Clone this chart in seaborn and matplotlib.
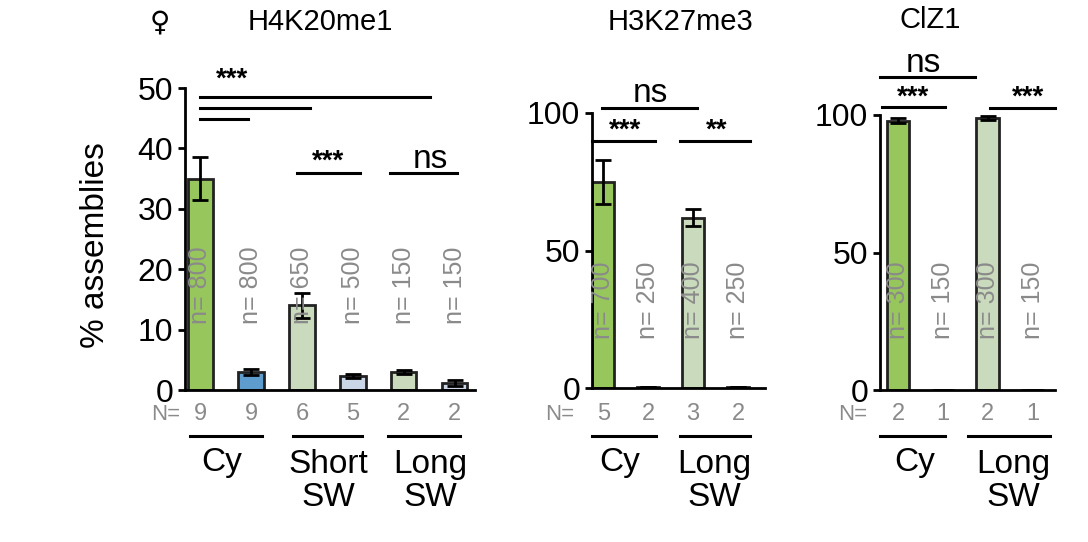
import matplotlib
matplotlib.use("Agg")
import matplotlib.pyplot as plt
import seaborn as sns
import pandas as pd
from matplotlib.lines import Line2D

plt.rcParams["font.family"] = "Liberation Sans"

W, H = 1088, 542
p1_vals = [35, 3, 14, 2.3, 3, 1.2]
p1_err = [3.5, 0.5, 2.0, 0.3, 0.3, 0.5]
p1_n = ["800", "800", "650", "500", "150", "150"]
p1_N = ["9", "9", "6", "5", "2", "2"]
p2_vals = [75, 0.5, 62, 0.5]
p2_err = [8, 0, 3, 0]
p2_n = ["700", "250", "400", "250"]
p2_N = ["5", "2", "3", "2"]
p3_vals = [98, 0, 99, 0]
p3_err = [1, 0, 0.8, 0]
p3_n = ["300", "150", "300", "150"]
p3_N = ["2", "1", "2", "1"]

G, B, LG, LB = "#99d94a", "#4a9fe0", "#c9e0b8", "#c5d6ea"
p1_cols = [G, B, LG, LB, LG, LB]
p2_cols = [G, LB, LG, LB]
p3_cols = [G, LB, LG, LB]

fig = plt.figure(figsize=(W/100, H/100), dpi=100)

def fx(px): return px / W
def fy(py): return 1 - py / H

def mkax(left, right, y0, ytop):
    return fig.add_axes([fx(left), fy(y0), fx(right - left), (y0 - ytop) / H])

def draw(ax, vals, errs, cols, ticks, xlim, ylim):
    df = pd.DataFrame({"x": [str(i) for i in range(len(vals))], "y": vals})
    sns.barplot(data=df, x="x", y="y", hue="x", palette=cols, legend=False,
                width=0.5, edgecolor="#222222", linewidth=2, ax=ax, errorbar=None)
    ax.errorbar(range(len(vals)), vals, yerr=errs, fmt="none", ecolor="black",
                elinewidth=2, capsize=6, capthick=2)
    sns.despine(ax=ax)
    for s in ("left", "bottom"):
        ax.spines[s].set_linewidth(2)
    ax.set_yticks(ticks)
    ax.set_xticks([])
    ax.set_xlabel(""); ax.set_ylabel("")
    ax.tick_params(axis="y", labelsize=23, width=2, length=5)
    ax.set_xlim(*xlim); ax.set_ylim(*ylim)

ax1 = mkax(185, 475, 390, 88)
draw(ax1, p1_vals, p1_err, p1_cols, [0, 10, 20, 30, 40, 50], (-0.3, 5.4), (0, 50))
ax2 = mkax(592, 765, 388, 113)
draw(ax2, p2_vals, p2_err, p2_cols, [0, 50, 100], (-0.25, 3.6), (0, 100))
ax3 = mkax(880, 1055, 390, 115)
draw(ax3, p3_vals, p3_err, p3_cols, [0, 50, 100], (-0.4, 3.5), (0, 100))

def line(x0, x1, y):
    fig.add_artist(Line2D([fx(x0), fx(x1)], [fy(y), fy(y)], color="black", lw=2.2))

def txt(x, y, s, **kw):
    kw.setdefault("fontsize", 17)
    fig.text(fx(x), fy(y), s, ha="center", va="center", **kw)

for ax, ns, Ns, ny, Nx in [(ax1, p1_n, p1_N, 285, 166), (ax2, p2_n, p2_N, 300, 560), (ax3, p3_n, p3_N, 300, 853)]:
    for i, (n, N) in enumerate(zip(ns, Ns)):
        px = ax.transData.transform((i, 0))[0]
        txt(px, ny, "n= " + n, rotation=90, color="#8a8a8a", fontsize=18)
        txt(px, 414, N, color="#8a8a8a", fontsize=17)
    txt(Nx, 414, "N=", color="#8a8a8a", fontsize=16)

for x0, x1, lab, lx in [(190, 262, "Cy", 222), (293, 362, "Short\nSW", 328), (388, 460, "Long\nSW", 430),
                         (592, 656, "Cy", 620), (680, 750, "Long\nSW", 714),
                         (880, 945, "Cy", 915), (968, 1050, "Long\nSW", 1013)]:
    line(x0, x1, 436)
    if "\n" in lab:
        txt(lx, 481, lab, fontsize=24, linespacing=1.05)
    else:
        txt(lx, 463, lab, fontsize=24)

line(200, 430, 97); line(200, 310, 108); line(200, 248, 119)
txt(232, 80, "***", fontsize=20, fontweight="bold")
line(297, 360, 173); txt(328, 162, "***", fontsize=20, fontweight="bold")
line(390, 457, 173); txt(430, 160, "ns", fontsize=24)
line(602, 697, 108); txt(650, 94, "ns", fontsize=24)
line(592, 655, 141); txt(625, 131, "***", fontsize=20, fontweight="bold")
line(680, 750, 141); txt(717, 131, "**", fontsize=20, fontweight="bold")
line(880, 975, 77); txt(923, 64, "ns", fontsize=24)
line(882, 945, 107); txt(913, 98, "***", fontsize=20, fontweight="bold")
line(990, 1055, 108); txt(1028, 98, "***", fontsize=20, fontweight="bold")

txt(160, 22, "♀", fontsize=20, fontfamily="DejaVu Sans")
txt(320, 22, "H4K20me1", fontsize=21)
txt(680, 22, "H3K27me3", fontsize=21)
txt(930, 20, "ClZ1", fontsize=21)
txt(95, 245, "% assemblies", fontsize=24, rotation=90)

fig.savefig("out.png", dpi=100)
